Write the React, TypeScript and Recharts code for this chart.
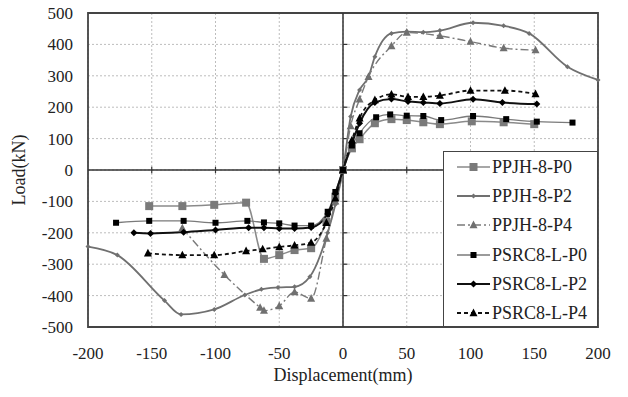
import { LineChart, Line, XAxis, YAxis, CartesianGrid, ReferenceLine, ReferenceArea, Legend, Label } from "recharts"

// 骨架曲线数据 (位移 mm / 荷载 kN)
const ppjhP0X = [-152, -126, -101, -76, -62, -50, -38, -25, -13, -6, 0, 7, 13, 25, 38, 50, 63, 76, 101, 126, 150]
const ppjhP0Y = [-115, -115, -111, -104, -283, -271, -255, -249, -165, -85, 0, 69, 98, 149, 162, 159, 152, 146, 155, 152, 146]

const ppjhP2X = [-200, -177, -140, -127, -101, -77, -64, -51, -38, -26, -12, -6, 0, 6, 13, 20, 25, 38, 50, 63, 76, 102, 126, 146, 176, 200]
const ppjhP2Y = [-244, -271, -416, -460, -444, -398, -380, -374, -372, -340, -200, -110, 0, 170, 255, 297, 361, 435, 441, 439, 444, 469, 459, 435, 329, 287]

const ppjhP4X = [-126, -93, -65, -62, -50, -38, -25, -13, -6, 0, 6, 13, 20, 38, 50, 76, 100, 126, 151]
const ppjhP4Y = [-185, -334, -438, -448, -433, -389, -409, -218, -100, 0, 140, 225, 297, 395, 438, 427, 409, 388, 382]

const psrcP0X = [-178, -152, -125, -100, -75, -62, -50, -38, -25, -12, -6, 0, 7, 13, 26, 37, 50, 63, 77, 102, 128, 152, 180]
const psrcP0Y = [-168, -162, -162, -168, -162, -167, -170, -177, -177, -133, -70, 0, 78, 117, 168, 177, 173, 172, 159, 172, 162, 154, 151]

const psrcP2X = [-164, -151, -125, -100, -74, -62, -50, -38, -25, -12, -6, 0, 7, 13, 25, 38, 51, 63, 76, 102, 125, 152]
const psrcP2Y = [-200, -202, -198, -191, -184, -184, -186, -186, -183, -140, -75, 0, 85, 149, 215, 226, 218, 215, 212, 225, 215, 210]

const psrcP4X = [-153, -126, -101, -76, -63, -50, -38, -25, -13, -6, 0, 7, 13, 25, 38, 51, 63, 76, 100, 127, 151]
const psrcP4Y = [-265, -271, -271, -258, -252, -245, -240, -231, -168, -90, 0, 95, 165, 223, 241, 233, 233, 237, 253, 253, 242]

const xTicks = [-200, -150, -100, -50, 0, 50, 100, 150, 200]
const yTicks = [-500, -400, -300, -200, -100, 0, 100, 200, 300, 400, 500]

const FONT = '"Liberation Serif", "Times New Roman", serif'

const toPoints = (xs: number[], ys: number[]) => xs.map((x, i) => ({ x, y: ys[i] }))

type Shape = 'square' | 'diamond' | 'triangle'

const series = [
  { name: 'PPJH-8-P0', data: toPoints(ppjhP0X, ppjhP0Y), stroke: '#8a8a8a', width: 1.5, dash: undefined, shape: 'square' as Shape, size: 8, fill: '#7a7a7a' },
  { name: 'PPJH-8-P2', data: toPoints(ppjhP2X, ppjhP2Y), stroke: '#707070', width: 1.8, dash: undefined, shape: 'diamond' as Shape, size: 5, fill: '#707070' },
  { name: 'PPJH-8-P4', data: toPoints(ppjhP4X, ppjhP4Y), stroke: '#7a7a7a', width: 1.4, dash: '8 3 2 3', shape: 'triangle' as Shape, size: 8, fill: '#707070' },
  { name: 'PSRC8-L-P0', data: toPoints(psrcP0X, psrcP0Y), stroke: '#7a7a7a', width: 1.3, dash: undefined, shape: 'square' as Shape, size: 6, fill: '#000' },
  { name: 'PSRC8-L-P2', data: toPoints(psrcP2X, psrcP2Y), stroke: '#111', width: 2, dash: undefined, shape: 'diamond' as Shape, size: 7, fill: '#000' },
  { name: 'PSRC8-L-P4', data: toPoints(psrcP4X, psrcP4Y), stroke: '#111', width: 1.8, dash: '4 3', shape: 'triangle' as Shape, size: 8, fill: '#000' },
]

function Marker({ cx, cy, shape, size, fill }: { cx?: number; cy?: number; shape: Shape; size: number; fill: string }) {
  if (cx == null || cy == null) return null
  const h = size / 2
  if (shape === 'square') return <rect x={cx - h} y={cy - h} width={size} height={size} fill={fill} />
  if (shape === 'diamond') return <path d={`M${cx},${cy - h}L${cx + h},${cy}L${cx},${cy + h}L${cx - h},${cy}Z`} fill={fill} />
  return <path d={`M${cx},${cy - h * 1.1}L${cx + h},${cy + h * 0.8}L${cx - h},${cy + h * 0.8}Z`} fill={fill} />
}

const renderLegend = () => (
  <div style={{ width: 155, height: 176, boxSizing: 'border-box', border: '1.5px solid #444', background: '#fff' }}>
    {series.map(s => (
      <div key={s.name} style={{ display: 'flex', alignItems: 'center', height: 29.3 }}>
        <svg width={48} height={14} style={{ flex: 'none' }}>
          <line x1={13} y1={7} x2={46} y2={7} stroke={s.stroke} strokeWidth={s.width} strokeDasharray={s.dash} />
          <Marker cx={29.5} cy={7} shape={s.shape} size={s.size} fill={s.fill} />
        </svg>
        <span style={{ fontFamily: FONT, fontSize: 18, color: '#222', lineHeight: '18px' }}>{s.name}</span>
      </div>
    ))}
  </div>
)

export default function App() {
  return (
    <div style={{ position: 'absolute', left: 0, top: 0, background: '#fff', fontFamily: FONT }}>
      <LineChart width={628} height={397} margin={{ top: 13, right: 30, left: 0, bottom: 10 }} style={{ fontFamily: FONT }}>
        <CartesianGrid stroke="#bdbdbd" strokeDasharray="2 2" />
        <XAxis
          dataKey="x"
          type="number"
          domain={[-200, 200]}
          ticks={xTicks}
          axisLine={false}
          tickLine={false}
          tickMargin={14}
          height={60}
          tick={{ fontSize: 17, fill: '#222', fontFamily: FONT }}
          allowDuplicatedCategory={false}
        >
          <Label value="Displacement(mm)" position="insideBottom" offset={6} style={{ fontSize: 18, fill: '#222', fontFamily: FONT }} />
        </XAxis>
        <YAxis
          type="number"
          domain={[-500, 500]}
          ticks={yTicks}
          axisLine={false}
          tickLine={false}
          tickMargin={9}
          width={88}
          tick={{ fontSize: 17, fill: '#222', fontFamily: FONT }}
        >
          <Label value="Load(kN)" angle={-90} position="insideLeft" offset={19} style={{ fontSize: 18, fill: '#222', textAnchor: 'middle', fontFamily: FONT }} />
        </YAxis>
        <ReferenceArea x1={-200} x2={200} y1={-500} y2={500} fill="none" stroke="#444" strokeWidth={1.8} />
        <ReferenceLine y={0} stroke="#333" strokeWidth={1.5} />
        <ReferenceLine x={0} stroke="#333" strokeWidth={1.5} />
        {xTicks.filter(t => t !== 0 && Math.abs(t) !== 200).map(t => (
          <ReferenceLine key={`xt${t}`} segment={[{ x: t, y: -10 }, { x: t, y: 10 }]} stroke="#333" strokeWidth={1.2} />
        ))}
        {yTicks.filter(t => t !== 0 && Math.abs(t) !== 500).map(t => (
          <ReferenceLine key={`yt${t}`} segment={[{ x: 0, y: t }, { x: 3.5, y: t }]} stroke="#333" strokeWidth={1.2} />
        ))}
        {series.map(s => (
          <Line
            key={s.name}
            data={s.data}
            dataKey="y"
            name={s.name}
            type="monotone"
            stroke={s.stroke}
            strokeWidth={s.width}
            strokeDasharray={s.dash}
            isAnimationActive={false}
            dot={(p: any) => <Marker key={`${s.name}-${p.index}`} cx={p.cx} cy={p.cy} shape={s.shape} size={s.size} fill={s.fill} />}
            activeDot={false}
          />
        ))}
        <Legend
          layout="vertical"
          align="center"
          verticalAlign="middle"
          content={renderLegend}
          wrapperStyle={{ left: 443, top: 151, width: 155, height: 176 }}
        />
      </LineChart>
    </div>
  )
}
